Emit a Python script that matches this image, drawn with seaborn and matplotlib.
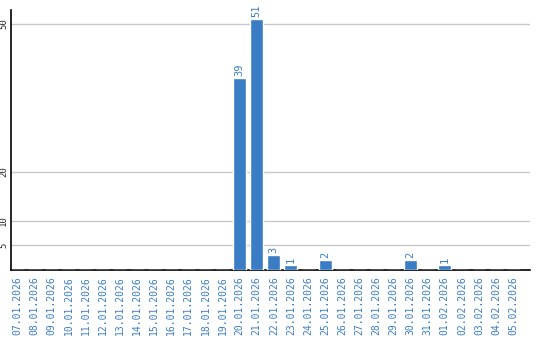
import matplotlib
matplotlib.use("Agg")
import matplotlib.pyplot as plt
import seaborn as sns
import pandas as pd

dates = ["07.01.2026", "08.01.2026", "09.01.2026", "10.01.2026", "11.01.2026",
         "12.01.2026", "13.01.2026", "14.01.2026", "15.01.2026", "16.01.2026",
         "17.01.2026", "18.01.2026", "19.01.2026", "20.01.2026", "21.01.2026",
         "22.01.2026", "23.01.2026", "24.01.2026", "25.01.2026", "26.01.2026",
         "27.01.2026", "28.01.2026", "29.01.2026", "30.01.2026", "31.01.2026",
         "01.02.2026", "02.02.2026", "03.02.2026", "04.02.2026", "05.02.2026"]
values = [0, 0, 0, 0, 0, 0, 0, 0, 0, 0, 0, 0, 0, 39, 51, 3, 1, 0, 2, 0, 0, 0, 0, 2, 0, 1, 0, 0, 0, 0]
yticks = [5, 10, 20, 50]

sns.set_style("white")
plt.rcParams['font.family'] = ['DejaVu Sans Mono']
blue = "#3a7dc4"

df = pd.DataFrame({"date": dates, "value": values})
fig = plt.figure(figsize=(5.4, 3.4), dpi=100)
ax = fig.add_axes([0.0204, 0.206, 0.961, 0.764])
sns.barplot(data=df, x="date", y="value", color=blue, saturation=1, width=0.76, ax=ax, zorder=3)

ax.set_ylim(0, 52.8)
ax.set_xlim(-0.37, 29.98)
ax.set_yticks(yticks)
ax.set_yticklabels([str(t) for t in yticks], rotation=90, va="center", fontsize=6.5)
ax.yaxis.grid(True, color="#c8c8c8", linewidth=1, zorder=0)
ax.set_axisbelow(True)
ax.tick_params(axis="y", length=0, pad=2)
ax.tick_params(axis="x", length=0, pad=4.5, labelrotation=90, labelsize=7, labelcolor=blue)
ax.set_xlabel("")
ax.set_ylabel("")
for s in ["top", "right"]:
    ax.spines[s].set_visible(False)
for s in ["left", "bottom"]:
    ax.spines[s].set_color("black")
    ax.spines[s].set_linewidth(1.2)

for i, v in enumerate(values):
    if v > 0:
        ax.text(i, v + 0.5, str(v), rotation=90, ha="center", va="bottom", color=blue, fontsize=7.5)

fig.savefig("out.png", dpi=100)
